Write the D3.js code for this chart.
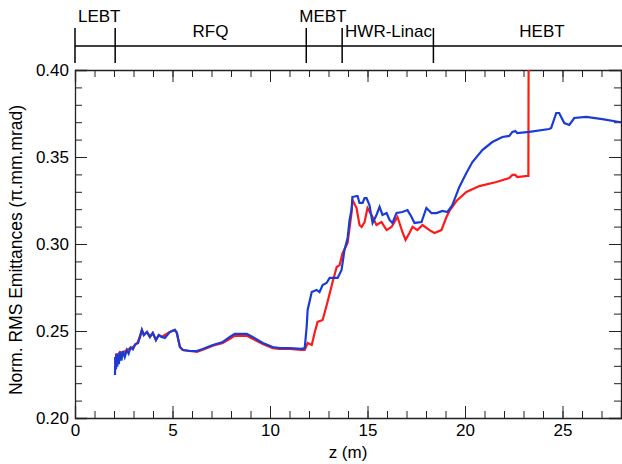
<!DOCTYPE html>
<html>
<head>
<meta charset="utf-8">
<script src="https://cdn.jsdelivr.net/npm/d3@7"></script>
<style>
  body { margin: 0; background: #fff; }
  text { font-family: Arial, "Liberation Sans", sans-serif; }
</style>
</head>
<body>
<div id="container"></div>
<script>
// beamline sections along z (m)
const sectionEdges = [0, 2.06, 11.86, 13.7, 18.38];
const sectionNames = ["LEBT", "RFQ", "MEBT", "HWR-Linac", "HEBT"];
const sectionLabelZ = [0.15, 6.95, 11.5, 13.85, 23.95];

// tick values
const xMajorTicks = [0, 5, 10, 15, 20, 25];
const yMajorTicks = [0.2, 0.25, 0.3, 0.35, 0.4];

// blue curve
const blueZ = [2.05, 2.07, 2.1, 2.13, 2.17, 2.2, 2.25, 2.3, 2.38, 2.45, 2.55, 2.66, 2.75, 2.85, 2.97,
  3.1, 3.23, 3.35, 3.43, 3.53, 3.69, 3.84, 3.99, 4.15, 4.3, 4.45, 4.61, 4.86, 5.12, 5.22, 5.38,
  5.53, 5.89, 6.25, 6.55, 7.07, 7.58, 7.94, 8.19, 8.81, 9.11, 9.63, 10.14, 10.5, 11.01, 11.62,
  11.78, 11.88, 11.93, 12.14, 12.39, 12.54, 12.7, 12.9, 13.06, 13.21, 13.47, 13.67, 13.82, 13.98,
  14.08, 14.18, 14.23, 14.44, 14.49, 14.59, 14.75, 14.85, 14.95, 15.1, 15.26, 15.46, 15.62, 15.77,
  15.98, 16.13, 16.28, 16.49, 16.79, 17.05, 17.26, 17.41, 17.77, 18.02, 18.28, 18.54, 18.84, 19.1,
  19.35, 19.71, 20.07, 20.38, 20.89, 21.4, 21.92, 22.27, 22.43, 22.58, 22.68, 23.3, 24.32, 24.42,
  24.68, 24.83, 25.09, 25.35, 25.6, 26.22, 27.04, 27.91, 28];
const blueEmit = [0.2247, 0.2351, 0.228, 0.237, 0.2295, 0.2365, 0.231, 0.2379, 0.233, 0.2385, 0.235, 0.2391, 0.237, 0.2405, 0.2395,
  0.2425, 0.243, 0.247, 0.2506, 0.2477, 0.2494, 0.2466, 0.2489, 0.2448, 0.2477, 0.2466, 0.246, 0.2494, 0.2506, 0.249, 0.2408,
  0.2391, 0.2385, 0.2385, 0.2397, 0.242, 0.2437, 0.2466, 0.2483, 0.2483, 0.2466, 0.2431, 0.2408, 0.2402, 0.2402, 0.2397,
  0.2402, 0.2523, 0.2621, 0.2724, 0.2736, 0.2724, 0.2764, 0.2776, 0.2805, 0.2805, 0.2805, 0.2851, 0.2966, 0.3034,
  0.3138, 0.3195, 0.327, 0.3276, 0.3276, 0.3236, 0.3236, 0.3264, 0.3264, 0.3224, 0.3121, 0.3167, 0.3213, 0.3167,
  0.3178, 0.3138, 0.3121, 0.3178, 0.3184, 0.3195, 0.3155, 0.3121, 0.3126, 0.3207, 0.3178, 0.3178, 0.319, 0.3184,
  0.3224, 0.3328, 0.3408, 0.3471, 0.354, 0.3586, 0.3615, 0.3621, 0.3644, 0.3649, 0.3638, 0.3644, 0.3661, 0.3667,
  0.3753, 0.3753, 0.3695, 0.3684, 0.3724, 0.373, 0.3718, 0.3701, 0.37];

// red curve
const redZ = [2.05, 2.08, 2.12, 2.18, 2.3, 2.45, 2.66, 2.97, 3.23, 3.43, 3.53, 3.69, 3.84, 3.99, 4.15,
  4.3, 4.45, 4.61, 4.86, 5.12, 5.22, 5.38, 5.53, 5.89, 6.25, 6.55, 7.07, 7.58, 7.94, 8.19, 8.81,
  9.11, 9.63, 10.14, 10.5, 11.01, 11.62, 11.78, 11.93, 12.14, 12.29, 12.44, 12.7, 12.95, 13.21,
  13.42, 13.57, 13.72, 13.98, 14.18, 14.23, 14.44, 14.59, 14.7, 14.85, 15.0, 15.26, 15.46, 15.72,
  15.98, 16.23, 16.54, 16.79, 16.95, 17.15, 17.31, 17.56, 17.82, 18.18, 18.43, 18.79, 19.05, 19.2,
  19.56, 20.07, 20.74, 21.61, 22.27, 22.43, 22.58, 22.68, 23.2, 23.25, 23.27];
const redEmit = [0.2351, 0.231, 0.237, 0.2355, 0.2379, 0.2375, 0.2391, 0.2408, 0.2437, 0.2506, 0.2477, 0.2494, 0.2466, 0.2489, 0.2448,
  0.2477, 0.2466, 0.2477, 0.2494, 0.2506, 0.249, 0.2408, 0.2391, 0.2385, 0.238, 0.2392, 0.2415, 0.2431, 0.2455, 0.2472, 0.2472,
  0.2455, 0.2425, 0.2402, 0.2397, 0.2397, 0.2392, 0.2391, 0.2431, 0.242, 0.249, 0.2552, 0.2563, 0.2667, 0.2782,
  0.2868, 0.2879, 0.2948, 0.3006, 0.3178, 0.3253, 0.3207, 0.3109, 0.3098, 0.3126, 0.3207, 0.3155, 0.3109, 0.3126,
  0.308, 0.3098, 0.3155, 0.3069, 0.3023, 0.3063, 0.3098, 0.308, 0.3109, 0.308, 0.3063, 0.308, 0.3155, 0.319,
  0.3247, 0.3299, 0.3333, 0.3356, 0.3379, 0.3397, 0.3397, 0.3385, 0.3391, 0.3391, 0.45];

draw();

function draw() {
  const width = 622;
  const height = 464;
  const margin = { left: 75, right: 1, top: 70, bottom: 46 };

  const svg = d3
    .select("#container")
    .append("svg")
    .attr("width", width)
    .attr("height", height);

  // scales
  const x = d3.scaleLinear().domain([0, 28]).range([margin.left, width - margin.right]);
  const y = d3.scaleLinear().domain([0.2, 0.4]).range([height - margin.bottom, margin.top]);

  const xMinor = d3.range(0, 29, 1);
  const yMinor = d3.range(0.2, 0.4001, 0.01);

  // section bar on top
  const barY = 46;
  svg.append("line")
    .attr("x1", x(0)).attr("x2", width)
    .attr("y1", barY).attr("y2", barY)
    .attr("stroke", "#000").attr("stroke-width", 1.5);
  svg.selectAll(".sect")
    .data(sectionEdges)
    .enter()
    .append("line")
    .attr("x1", (d) => x(d)).attr("x2", (d) => x(d))
    .attr("y1", 28).attr("y2", 63)
    .attr("stroke", "#000").attr("stroke-width", 1.5);
  svg.selectAll(".sectLabel")
    .data(sectionNames)
    .enter()
    .append("text")
    .attr("x", (d, i) => x(sectionLabelZ[i]))
    .attr("y", (d, i) => (i === 0 || i === 2 ? 22 : 37))
    .attr("text-anchor", (d, i) => (i === 1 || i === 4 ? "middle" : "start"))
    .attr("font-size", 17)
    .text((d) => d);

  // axes: major and minor ticks, all pointing inward
  const bottom = height - margin.bottom;
  const right = width - margin.right;

  svg.append("g")
    .attr("transform", "translate(0," + bottom + ")")
    .call(d3.axisBottom(x).tickValues(xMinor).tickSize(-7).tickFormat(""))
    .call((g) => g.select(".domain").remove());
  svg.append("g")
    .attr("class", "xmajor")
    .attr("transform", "translate(0," + bottom + ")")
    .call(d3.axisBottom(x).tickValues(xMajorTicks).tickSize(-12).tickPadding(6).tickFormat(d3.format("d")));

  svg.append("g")
    .attr("transform", "translate(0," + margin.top + ")")
    .call(d3.axisTop(x).tickValues(xMinor).tickSize(-7).tickFormat(""))
    .call((g) => g.select(".domain").remove());
  svg.append("g")
    .attr("transform", "translate(0," + margin.top + ")")
    .call(d3.axisTop(x).tickValues(xMajorTicks).tickSize(-12).tickFormat(""));

  svg.append("g")
    .attr("transform", "translate(" + margin.left + ",0)")
    .call(d3.axisLeft(y).tickValues(yMinor).tickSize(-7).tickFormat(""))
    .call((g) => g.select(".domain").remove());
  svg.append("g")
    .attr("class", "ymajor")
    .attr("transform", "translate(" + margin.left + ",0)")
    .call(d3.axisLeft(y).tickValues(yMajorTicks).tickSize(-12).tickPadding(6).tickFormat(d3.format(".2f")));

  svg.append("g")
    .attr("transform", "translate(" + right + ",0)")
    .call(d3.axisRight(y).tickValues(yMinor).tickSize(-7).tickFormat(""))
    .call((g) => g.select(".domain").remove());
  svg.append("g")
    .attr("transform", "translate(" + right + ",0)")
    .call(d3.axisRight(y).tickValues(yMajorTicks).tickSize(-12).tickFormat(""));

  svg.selectAll(".domain").attr("stroke", "#222").attr("stroke-width", 1.3);
  svg.selectAll(".tick line").attr("stroke", "#222");
  svg.selectAll(".xmajor text, .ymajor text")
    .attr("font-size", 17)
    .attr("font-family", "Arial, 'Liberation Sans', sans-serif")
    .attr("fill", "#000");

  // axis titles
  svg.append("text")
    .attr("x", x(14))
    .attr("y", 458)
    .attr("text-anchor", "middle")
    .attr("font-size", 17)
    .text("z (m)");
  svg.append("text")
    .attr("transform", "translate(22,250) rotate(-90)")
    .attr("text-anchor", "middle")
    .attr("font-size", 17.5)
    .text("Norm. RMS Emittances (\u03c0.mm.mrad)");

  // clip the curves to the plot box
  svg.append("clipPath")
    .attr("id", "plotClip")
    .append("rect")
    .attr("x", margin.left).attr("y", margin.top)
    .attr("width", right - margin.left).attr("height", bottom - margin.top);

  const line = d3.line().x((d) => x(d[0])).y((d) => y(d[1]));

  svg.append("path")
    .datum(d3.zip(redZ, redEmit))
    .attr("clip-path", "url(#plotClip)")
    .attr("fill", "none")
    .attr("stroke", "#ff1a1a")
    .attr("stroke-width", 2.2)
    .attr("d", line);

  svg.append("path")
    .datum(d3.zip(blueZ, blueEmit))
    .attr("clip-path", "url(#plotClip)")
    .attr("fill", "none")
    .attr("stroke", "#1a3cd4")
    .attr("stroke-width", 2.2)
    .attr("d", line);
}
</script>
</body>
</html>
